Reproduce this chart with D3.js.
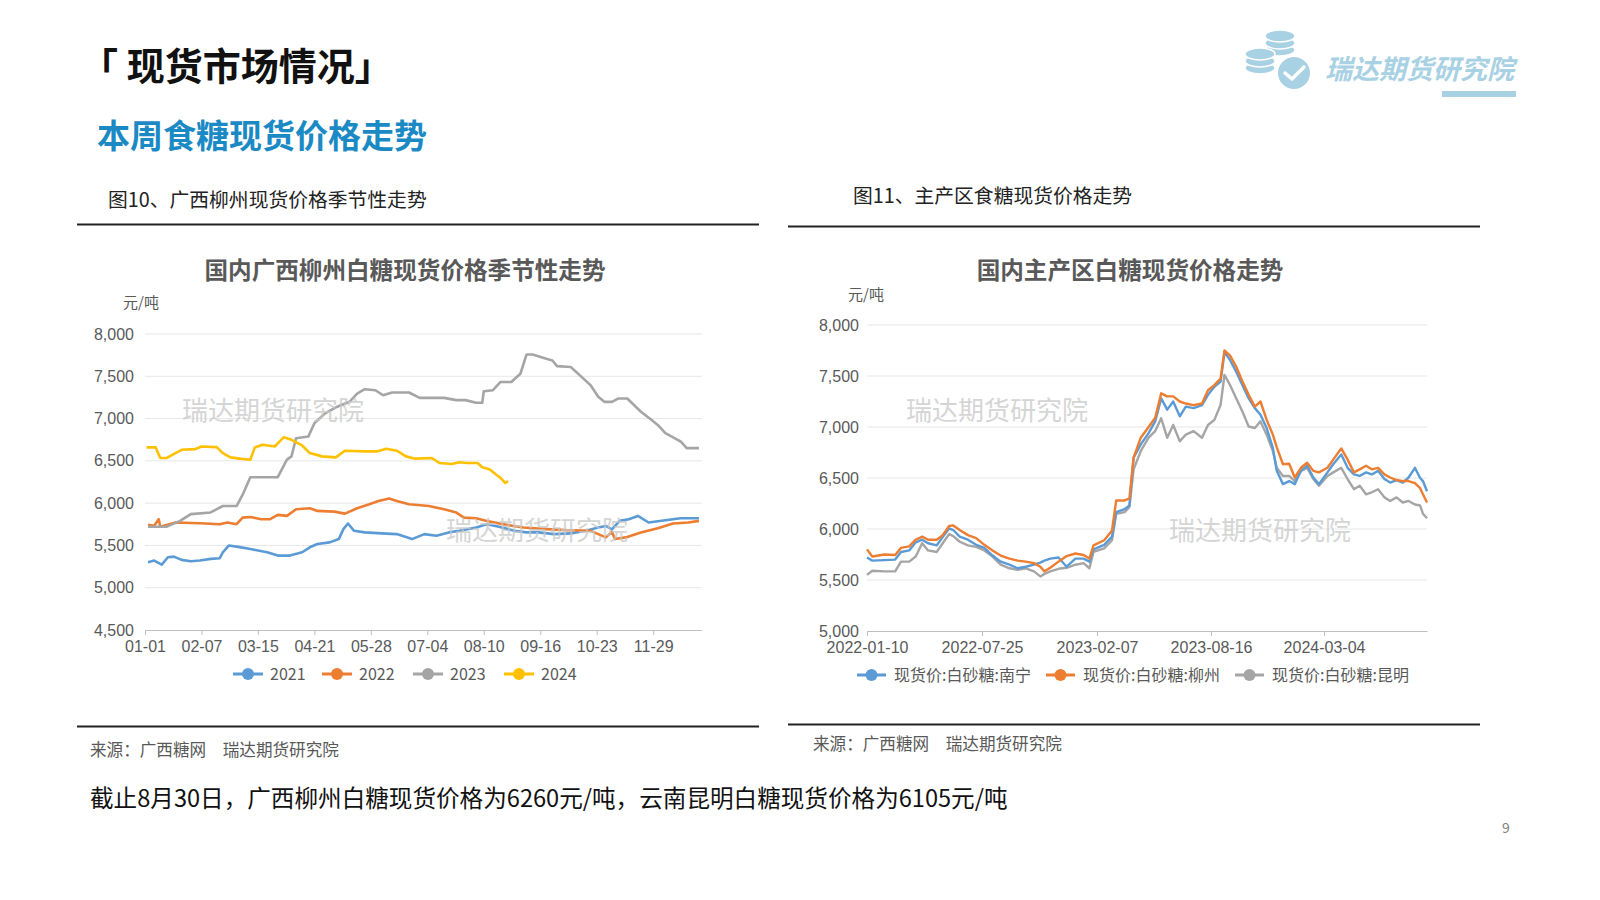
<!DOCTYPE html>
<html><head><meta charset="utf-8">
<script src="https://cdn.jsdelivr.net/npm/d3@7"></script>
<style>
body{margin:0;background:#fff;}
svg{display:block;font-family:"Noto Sans CJK SC","Noto Sans",sans-serif;}
</style>
</head><body>
<svg id="c" width="1600" height="900"></svg>
<script>
// ---------- Left chart data: [day of year, price] ----------
const seasonTicks = ["01-01","02-07","03-15","04-21","05-28","07-04","08-10","09-16","10-23","11-29"];
const seasonTickDays = [0,37,74,111,148,185,222,259,296,333];
const y2021 = [[2,5302],[6,5321],[11,5274],[15,5360],[19,5368],[24,5329],[30,5313],[36,5321],[43,5341],[49,5349],[51,5419],[55,5500],[62,5480],[69,5458],[80,5419],[87,5380],[95,5380],[103,5419],[108,5478],[113,5517],[121,5536],[127,5575],[130,5693],[133,5759],[137,5673],[144,5654],[155,5642],[165,5634],[175,5575],[183,5634],[191,5614],[199,5654],[206,5673],[217,5712],[224,5751],[232,5720],[242,5673],[250,5654],[258,5654],[268,5634],[279,5642],[289,5673],[297,5712],[302,5730],[306,5690],[311,5790],[317,5810],[323,5849],[330,5771],[341,5798],[351,5822],[363,5822]];
const y2022 = [[2,5743],[6,5732],[9,5810],[10,5720],[20,5771],[36,5763],[49,5751],[54,5771],[60,5751],[64,5829],[69,5837],[76,5810],[82,5810],[87,5861],[93,5849],[99,5927],[108,5939],[113,5908],[124,5900],[131,5876],[139,5939],[147,5986],[153,6025],[160,6056],[165,6025],[173,5986],[186,5966],[196,5927],[204,5888],[209,5829],[217,5822],[224,5790],[237,5743],[248,5712],[263,5693],[276,5681],[292,5673],[297,5634],[302,5595],[306,5660],[308,5576],[315,5595],[325,5654],[336,5704],[346,5759],[356,5771],[363,5790]];
const y2023 = [[2,5720],[14,5720],[23,5790],[30,5870],[43,5890],[51,5966],[60,5966],[64,6100],[69,6307],[80,6307],[87,6307],[93,6514],[96,6553],[99,6768],[107,6787],[111,6944],[118,7061],[126,7140],[134,7198],[139,7296],[144,7347],[151,7335],[156,7276],[162,7308],[173,7308],[180,7245],[196,7245],[204,7218],[210,7218],[217,7187],[221,7187],[222,7323],[228,7335],[233,7433],[240,7433],[246,7530],[250,7757],[254,7757],[263,7707],[267,7687],[270,7620],[279,7609],[285,7511],[292,7394],[297,7257],[301,7198],[306,7198],[310,7237],[316,7237],[325,7081],[332,6983],[336,6925],[341,6827],[347,6768],[351,6729],[355,6651],[363,6651]];
const y2024 = [[1,6659],[7,6659],[10,6533],[14,6533],[20,6592],[24,6631],[33,6639],[37,6670],[47,6662],[51,6592],[56,6541],[62,6526],[69,6514],[72,6659],[77,6690],[85,6670],[91,6780],[96,6749],[103,6682],[108,6592],[116,6553],[125,6541],[131,6620],[144,6612],[152,6612],[158,6643],[165,6620],[171,6553],[177,6526],[188,6533],[193,6475],[201,6463],[206,6483],[211,6475],[218,6475],[221,6424],[226,6397],[230,6338],[233,6299],[236,6240],[238,6260]];
const seasonNames = ["2021","2022","2023","2024"];

// ---------- Right chart data ----------
const regionTicks = ["2022-01-10","2022-07-25","2023-02-07","2023-08-16","2024-03-04"];
const regionEnd = "2024-08-30";
const regionDates = ["2022-01-10","2022-01-19","2022-02-09","2022-02-27","2022-03-09","2022-03-23","2022-04-03","2022-04-14","2022-04-24","2022-05-09","2022-05-19","2022-05-30","2022-06-06","2022-06-17","2022-07-01","2022-07-15","2022-07-29","2022-08-12","2022-08-26","2022-09-10","2022-09-24","2022-10-08","2022-10-22","2022-11-02","2022-11-09","2022-11-19","2022-12-03","2022-12-17","2023-01-01","2023-01-15","2023-01-25","2023-02-01","2023-02-19","2023-03-04","2023-03-11","2023-03-25","2023-04-02","2023-04-09","2023-04-21","2023-05-04","2023-05-15","2023-05-25","2023-06-04","2023-06-14","2023-06-25","2023-07-05","2023-07-18","2023-08-01","2023-08-11","2023-08-22","2023-09-02","2023-09-09","2023-09-19","2023-09-30","2023-10-11","2023-10-22","2023-11-02","2023-11-12","2023-11-23","2023-12-04","2023-12-11","2023-12-22","2024-01-02","2024-01-12","2024-01-23","2024-02-03","2024-02-14","2024-02-24","2024-03-10","2024-03-20","2024-04-03","2024-04-14","2024-04-25","2024-05-05","2024-05-16","2024-05-26","2024-06-06","2024-06-17","2024-06-27","2024-07-08","2024-07-19","2024-07-29","2024-08-09","2024-08-18","2024-08-23","2024-08-30"];
const nanning = [5720,5690,5695,5700,5775,5790,5870,5895,5860,5840,5920,6005,5990,5925,5895,5845,5815,5740,5680,5650,5615,5630,5650,5670,5690,5710,5720,5630,5710,5710,5680,5800,5845,5925,6165,6195,6230,6700,6830,6940,7055,7280,7170,7250,7105,7200,7185,7215,7315,7395,7445,7735,7655,7540,7410,7280,7185,7120,6990,6795,6570,6440,6470,6440,6570,6620,6505,6440,6555,6635,6730,6600,6535,6520,6555,6535,6570,6490,6455,6480,6455,6505,6600,6500,6470,6370];
const liuzhou = [5800,5730,5750,5745,5815,5830,5895,5925,5895,5895,5940,6030,6035,5990,5940,5910,5845,5790,5740,5710,5690,5680,5665,5630,5585,5620,5680,5735,5760,5745,5710,5840,5890,5985,6280,6280,6300,6700,6895,7000,7090,7330,7300,7300,7250,7230,7215,7230,7360,7410,7475,7750,7700,7590,7445,7315,7200,7250,7070,6925,6800,6635,6640,6505,6600,6650,6570,6555,6600,6680,6790,6680,6555,6585,6620,6585,6600,6535,6505,6480,6470,6470,6450,6400,6340,6260];
const kunming = [5550,5590,5585,5585,5680,5680,5730,5860,5790,5775,5860,5950,5930,5875,5840,5825,5790,5730,5650,5615,5600,5615,5585,5535,5560,5585,5610,5620,5650,5665,5615,5775,5810,5890,6150,6165,6215,6585,6765,6895,6960,7085,6895,7020,6860,6925,6960,6895,7020,7070,7215,7510,7410,7280,7150,7005,6990,7055,6925,6765,6600,6520,6520,6470,6570,6600,6490,6425,6520,6555,6600,6490,6390,6425,6340,6360,6390,6310,6275,6310,6260,6275,6240,6230,6150,6105];
const regionNames = ["现货价:白砂糖:南宁","现货价:白砂糖:柳州","现货价:白砂糖:昆明"];

const yTicksL = [4500,5000,5500,6000,6500,7000,7500,8000];
const yTicksR = [5000,5500,6000,6500,7000,7500,8000];

// ---------- styles ----------
const C = {blue:"#5b9bd5", orange:"#ed7d31", gray:"#a5a5a5", yellow:"#ffc000"};
const textGray = "#595959";
const svg = d3.select("#c");

// ---------- header ----------
svg.append("text").attr("x",80).attr("y",80).attr("font-size",38).attr("font-weight",700).attr("fill","#111").text("「 现货市场情况」");
svg.append("text").attr("x",97).attr("y",148).attr("font-size",33).attr("font-weight",700).attr("fill","#1b8ac4").text("本周食糖现货价格走势");

// logo
const logo = svg.append("g").attr("fill","#a9d1e4");
[[1280,50],[1280,43],[1280,36]].forEach(([cx,cy])=>logo.append("ellipse").attr("cx",cx).attr("cy",cy).attr("rx",15).attr("ry",6).attr("stroke","#fff").attr("stroke-width",1.5));
[[1260,68],[1260,61],[1260,54]].forEach(([cx,cy])=>logo.append("ellipse").attr("cx",cx).attr("cy",cy).attr("rx",15).attr("ry",6).attr("stroke","#fff").attr("stroke-width",1.5));
logo.append("circle").attr("cx",1294).attr("cy",73).attr("r",17).attr("stroke","#fff").attr("stroke-width",2);
logo.append("path").attr("d","M1285,73 L1292,79 L1304,67").attr("fill","none").attr("stroke","#fff").attr("stroke-width",3.5).attr("stroke-linecap","round").attr("stroke-linejoin","round");
svg.append("text").attr("x",1325).attr("y",79).attr("font-size",27).attr("font-weight",700).attr("font-style","italic").attr("fill","#a9d1e4").text("瑞达期货研究院");
svg.append("rect").attr("x",1442).attr("y",91).attr("width",74).attr("height",6).attr("fill","#a9d1e4");

// captions & rules
svg.append("text").attr("x",108).attr("y",207).attr("font-size",19.8).attr("fill","#222").text("图10、广西柳州现货价格季节性走势");
svg.append("text").attr("x",853).attr("y",203).attr("font-size",19.8).attr("fill","#222").text("图11、主产区食糖现货价格走势");
[[77,759,224.5],[788,1480,226.5],[77,759,726.5],[788,1480,724.5]].forEach(([x1,x2,y])=>
  svg.append("line").attr("x1",x1).attr("x2",x2).attr("y1",y).attr("y2",y).attr("stroke","#222").attr("stroke-width",2));
svg.append("text").attr("x",90).attr("y",756).attr("font-size",16.6).attr("fill",textGray).text("来源：广西糖网　瑞达期货研究院");
svg.append("text").attr("x",813).attr("y",750).attr("font-size",16.6).attr("fill",textGray).text("来源：广西糖网　瑞达期货研究院");
svg.append("text").attr("x",90).attr("y",807).attr("font-size",23.6).attr("fill","#111").text("截止8月30日，广西柳州白糖现货价格为6260元/吨，云南昆明白糖现货价格为6105元/吨");
svg.append("text").attr("x",1506).attr("y",833).attr("font-size",14).attr("fill","#7f7f7f").attr("text-anchor","middle").text("9");

// ---------- helper ----------
function styleAxisText(g){ g.selectAll("text").attr("fill",textGray).attr("font-size",16); }

// ---------- Left chart ----------
const xL = d3.scaleLinear().domain([0,365]).range([145,702]);
const yL = d3.scaleLinear().domain([4500,8000]).range([630,334]);
const gL = svg.append("g");
gL.append("text").attr("x",405).attr("y",279).attr("text-anchor","middle").attr("font-size",23.6).attr("font-weight",700).attr("fill",textGray).text("国内广西柳州白糖现货价格季节性走势");
gL.append("text").attr("x",123).attr("y",308).attr("font-size",15).attr("fill",textGray).text("元/吨");
gL.selectAll("line.grid").data(yTicksL.slice(1)).join("line").attr("x1",145).attr("x2",702)
  .attr("y1",d=>yL(d)).attr("y2",d=>yL(d)).attr("stroke","#e7e7e7").attr("stroke-width",1);
const axL = gL.append("g").attr("transform","translate(0,630)")
  .call(d3.axisBottom(xL).tickValues(seasonTickDays).tickFormat((d,i)=>seasonTicks[i]).tickSize(5).tickPadding(6).tickSizeOuter(0));
axL.selectAll("path,line").attr("stroke","#bfbfbf");
styleAxisText(axL);
const ayL = gL.append("g").attr("transform","translate(145,0)").call(d3.axisLeft(yL).tickValues(yTicksL).tickFormat(d3.format(",")).tickSize(0).tickPadding(11));
ayL.select(".domain").remove();
styleAxisText(ayL);
const lineL = d3.line().x(d=>xL(d[0])).y(d=>yL(d[1]));
[[y2021,C.blue],[y2022,C.orange],[y2023,C.gray],[y2024,C.yellow]].forEach(([s,col])=>
  gL.append("path").datum(s).attr("d",lineL).attr("fill","none").attr("stroke",col).attr("stroke-width",2.6).attr("stroke-linejoin","round"));
// legend
const legL = [[233,C.blue],[322,C.orange],[413,C.gray],[504,C.yellow]];
legL.forEach(([x,col],i)=>{
  gL.append("line").attr("x1",x).attr("x2",x+30).attr("y1",674).attr("y2",674).attr("stroke",col).attr("stroke-width",3);
  gL.append("circle").attr("cx",x+15).attr("cy",674).attr("r",6).attr("fill",col);
  gL.append("text").attr("x",x+37).attr("y",680).attr("font-size",16).attr("fill",textGray).text(seasonNames[i]);
});
// watermarks
[[182,420],[446,540]].forEach(([x,y])=>gL.append("text").attr("x",x).attr("y",y).attr("font-size",26).attr("fill","#c8c8c8").attr("opacity",0.75).text("瑞达期货研究院"));

// ---------- Right chart ----------
const parse = d3.timeParse("%Y-%m-%d");
const fmt = d3.timeFormat("%Y-%m-%d");
const xR = d3.scaleTime().domain(regionTicks.concat([regionEnd]).map(parse)).range([867,982,1097,1211,1324,1427]);
const yR = d3.scaleLinear().domain([5000,8000]).range([631,325]);
const gR = svg.append("g");
gR.append("text").attr("x",1130).attr("y",279).attr("text-anchor","middle").attr("font-size",23.6).attr("font-weight",700).attr("fill",textGray).text("国内主产区白糖现货价格走势");
gR.append("text").attr("x",848).attr("y",300).attr("font-size",15).attr("fill",textGray).text("元/吨");
gR.selectAll("line.grid").data(yTicksR.slice(1)).join("line").attr("x1",867).attr("x2",1427)
  .attr("y1",d=>yR(d)).attr("y2",d=>yR(d)).attr("stroke","#e7e7e7").attr("stroke-width",1);
const axR = gR.append("g").attr("transform","translate(0,631)")
  .call(d3.axisBottom(xR).tickValues(regionTicks.map(parse)).tickFormat(fmt).tickSize(5).tickPadding(6).tickSizeOuter(0));
axR.selectAll("path,line").attr("stroke","#bfbfbf");
styleAxisText(axR);
const ayR = gR.append("g").attr("transform","translate(867,0)").call(d3.axisLeft(yR).tickValues(yTicksR).tickFormat(d3.format(",")).tickSize(0).tickPadding(8));
ayR.select(".domain").remove();
styleAxisText(ayR);
const dates = regionDates.map(parse);
const lineR = d3.line().x((d,i)=>xR(dates[i])).y(d=>yR(d));
[[kunming,C.gray],[nanning,C.blue],[liuzhou,C.orange]].forEach(([s,col])=>
  gR.append("path").datum(s).attr("d",lineR).attr("fill","none").attr("stroke",col).attr("stroke-width",2.4).attr("stroke-linejoin","round"));
const legR = [[857,C.blue],[1046,C.orange],[1235,C.gray]];
legR.forEach(([x,col],i)=>{
  gR.append("line").attr("x1",x).attr("x2",x+29).attr("y1",675).attr("y2",675).attr("stroke",col).attr("stroke-width",3);
  gR.append("circle").attr("cx",x+14.5).attr("cy",675).attr("r",6).attr("fill",col);
  gR.append("text").attr("x",x+37).attr("y",681).attr("font-size",16).attr("fill",textGray).text(regionNames[i]);
});
[[906,420],[1169,540]].forEach(([x,y])=>gR.append("text").attr("x",x).attr("y",y).attr("font-size",26).attr("fill","#c8c8c8").attr("opacity",0.75).text("瑞达期货研究院"));
</script>
</body></html>
